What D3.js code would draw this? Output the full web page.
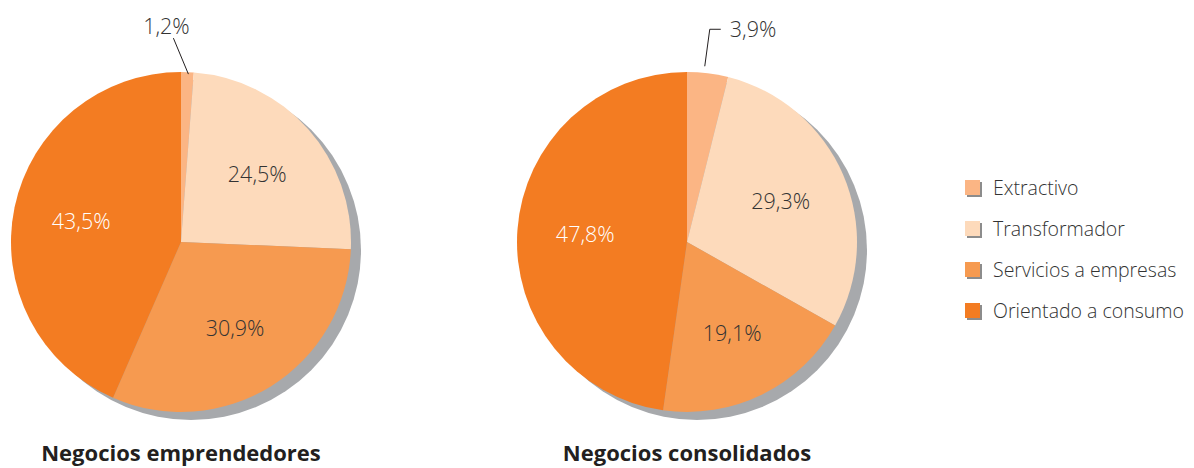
<!DOCTYPE html>
<html>
<head>
<meta charset="utf-8">
<script src="https://cdn.jsdelivr.net/npm/d3@7"></script>
<style>
  body { margin: 0; background: #fff; }
  svg { font-family: "Open Sans", "Noto Sans", sans-serif; }
</style>
</head>
<body>
<svg id="chart" width="1194" height="468"></svg>
<script>
// ---- data ----
const categories = ["Extractivo", "Transformador", "Servicios a empresas", "Orientado a consumo"];
const colors = ["#fbb584", "#fddabb", "#f69a50", "#f37c22"];
const emprendedores = [1.2, 24.5, 30.9, 43.5];
const consolidados = [3.9, 29.3, 19.1, 47.8];
const titles = ["Negocios emprendedores", "Negocios consolidados"];

const svg = d3.select("#chart");
const radius = 170;
const pie = d3.pie().sort(null).value(d => d);
const arc = d3.arc().innerRadius(0).outerRadius(radius);
const labelArc = d3.arc().innerRadius(radius * 0.6).outerRadius(radius * 0.6);
const fmt = v => d3.format(".1f")(v).replace(".", ",") + "%";

function drawPie(values, cx, cy, title, smallLabel) {
  const g = svg.append("g").attr("transform", `translate(${cx},${cy})`);

  // grey drop shadow
  g.append("circle")
    .attr("cx", 10).attr("cy", 8).attr("r", radius)
    .attr("fill", "#a7a9ac");

  const arcs = pie(values);
  g.selectAll("path.slice")
    .data(arcs)
    .enter().append("path")
    .attr("class", "slice")
    .attr("d", arc)
    .attr("fill", (d, i) => colors[i]);

  // inside labels (tiny first slice gets a leader instead)
  g.selectAll("text.val")
    .data(arcs.slice(1))
    .enter().append("text")
    .attr("class", "val")
    .attr("transform", d => `translate(${labelArc.centroid(d)})`)
    .attr("text-anchor", "middle")
    .attr("dy", "0.35em")
    .attr("font-size", 21.5)
    .attr("font-weight", 300)
    .attr("fill", (d, i) => i === 2 ? "#fff" : "#333")
    .text(d => fmt(d.data));

  smallLabel(g, arcs[0]);

  svg.append("text")
    .attr("x", cx).attr("y", 461)
    .attr("text-anchor", "middle")
    .attr("font-size", 22)
    .attr("font-weight", "bold")
    .attr("fill", "#231f20")
    .text(title);
}

function edgePoint(d) {
  const a = (d.startAngle + d.endAngle) / 2;
  return [Math.sin(a) * radius, -Math.cos(a) * radius];
}

// left pie: straight leader going up-left
drawPie(emprendedores, 181, 242, titles[0], (g, d) => {
  const p = edgePoint(d);
  g.append("line")
    .attr("x1", p[0] + 1).attr("y1", p[1] + 2)
    .attr("x2", p[0] - 14).attr("y2", p[1] - 34)
    .attr("stroke", "#231f20").attr("stroke-width", 1);
  g.append("text")
    .attr("x", p[0] - 21).attr("y", p[1] - 38)
    .attr("text-anchor", "middle")
    .attr("font-size", 21.5)
    .attr("font-weight", 300)
    .attr("fill", "#333")
    .text(fmt(d.data));
});

// right pie: elbow leader
drawPie(consolidados, 687, 242, titles[1], (g, d) => {
  const p = edgePoint(d);
  g.append("path")
    .attr("d", `M${p[0] - 3},${p[1] - 7} L${p[0] + 2},${p[1] - 44} L${p[0] + 13},${p[1] - 44}`)
    .attr("fill", "none")
    .attr("stroke", "#231f20").attr("stroke-width", 1);
  g.append("text")
    .attr("x", p[0] + 22).attr("y", p[1] - 36)
    .attr("font-size", 21.5)
    .attr("font-weight", 300)
    .attr("fill", "#333")
    .text(fmt(d.data));
});

// legend
const legend = svg.append("g").attr("transform", "translate(965,188)");
const rows = legend.selectAll("g")
  .data(categories)
  .enter().append("g")
  .attr("transform", (d, i) => `translate(0,${i * 41})`);
rows.append("rect")
  .attr("x", 2).attr("y", -6).attr("width", 15).attr("height", 15)
  .attr("fill", "#8c8c8c");
rows.append("rect")
  .attr("x", 0).attr("y", -8).attr("width", 15).attr("height", 15)
  .attr("fill", (d, i) => colors[i]);
rows.append("text")
  .attr("x", 28).attr("y", 0)
  .attr("dy", "0.35em")
  .attr("font-size", 19.5)
  .attr("font-weight", 300)
  .attr("fill", "#333")
  .text(d => d);
</script>
</body>
</html>
